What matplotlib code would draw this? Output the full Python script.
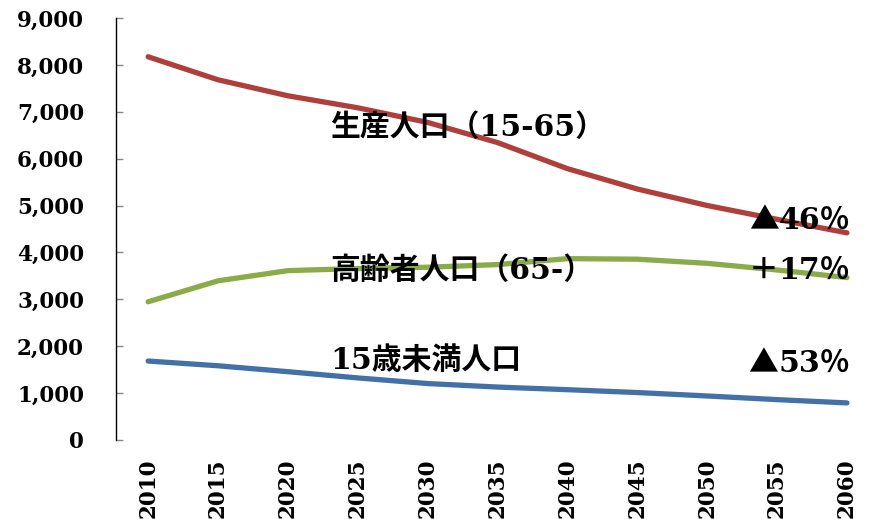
import matplotlib
matplotlib.use('Agg')
import matplotlib.pyplot as plt
from matplotlib.ticker import FuncFormatter

## data (unit: 10,000 persons) ##
years = ['2010', '2015', '2020', '2025', '2030', '2035', '2040', '2045', '2050', '2055', '2060']
working_age = [8173, 7682, 7341, 7085, 6773, 6343, 5787, 5353, 5001, 4706, 4418]
elderly = [2948, 3395, 3612, 3657, 3685, 3741, 3868, 3856, 3768, 3626, 3464]
children = [1684, 1583, 1457, 1324, 1204, 1129, 1073, 1012, 939, 861, 791]

labels = ['生産人口（15-65）', '高齢者人口（65-）', '15歳未満人口']
change_signs = ['▲', '＋', '▲']
change_values = ['46％', '17％', '53％']

serif = ['DejaVu Serif', 'Noto Sans CJK JP']

fig = plt.figure(figsize=(8.7, 5.19), dpi=100)
W, H = 870, 519
ax = fig.add_axes([116 / W, (H - 440) / H, (870 - 116) / W, 422 / H])

x = list(range(len(years)))
ax.plot(x, working_age, color='#AE3F3B', lw=3.8, solid_capstyle='round', solid_joinstyle='round')
ax.plot(x, elderly, color='#8AAB48', lw=3.8, solid_capstyle='round', solid_joinstyle='round')
ax.plot(x, children, color='#4470A8', lw=3.8, solid_capstyle='round', solid_joinstyle='round')

ax.set_ylim(0, 9000)
ax.set_yticks(range(0, 9001, 1000))
ax.yaxis.set_major_formatter(FuncFormatter(lambda v, p: f'{int(v):,}'))
ax.set_xlim(-0.46, 10.33)
ax.set_xticks(x)
ax.set_xticklabels(years, rotation=90)

for s in ['top', 'right', 'bottom']:
    ax.spines[s].set_visible(False)
ax.spines['left'].set_linewidth(1.0)
ax.spines['left'].set_color('black')

ax.tick_params(axis='y', direction='in', length=5, width=1, color='#888888', pad=23)
ax.tick_params(axis='x', length=0, pad=13)
for t in ax.get_yticklabels() + ax.get_xticklabels():
    t.set_fontfamily('DejaVu Serif')
    t.set_fontweight('bold')
    t.set_fontsize(15.5)

## annotations ##
name_y = [128, 270, 361]
chg_y = [220, 270, 363]
for lab, cy in zip(labels, name_y):
    fig.text(330 / W, 1 - cy / H, lab, family=serif, fontweight='bold', fontsize=21.5,
             ha='left', va='center')

renderer = fig.canvas.get_renderer()
for sign, val, cy in zip(change_signs, change_values, chg_y):
    t = fig.text(850 / W, 1 - cy / H, val, family=serif, fontweight='bold', fontsize=21.5,
                 ha='right', va='center')
    left = t.get_window_extent(renderer).x0
    fig.text(left / W, 1 - cy / H, sign, family=['Noto Sans CJK JP'], fontweight='bold',
             fontsize=21.5, ha='right', va='center')

fig.savefig('out.png', dpi=100)
